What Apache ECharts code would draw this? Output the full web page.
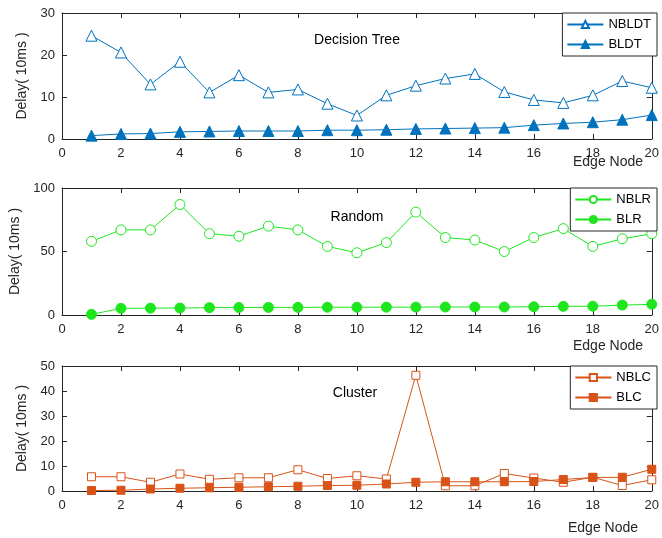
<!DOCTYPE html>
<html>
<head>
<meta charset="utf-8">
<script src="https://cdn.jsdelivr.net/npm/echarts@6/dist/echarts.min.js"></script>
<style>
html,body{margin:0;padding:0;background:#fff;}
#chart{width:662px;height:538px;}
</style>
</head>
<body>
<div id="chart"></div>
<script>
// Edge node indices 1..20
const nodes = [1,2,3,4,5,6,7,8,9,10,11,12,13,14,15,16,17,18,19,20];

// Decision Tree delays (10ms units)
const nbldt = [24.6,20.6,13.0,18.4,11.1,15.2,11.1,11.8,8.4,5.6,10.4,12.7,14.4,15.5,11.2,9.3,8.6,10.4,13.8,12.2];
const bldt  = [0.8,1.2,1.3,1.7,1.8,1.9,1.9,1.9,2.1,2.1,2.2,2.4,2.5,2.6,2.7,3.3,3.7,4.0,4.6,5.7];

// Random delays
const nblr = [58,67,67,87,64,62,70,67,54,49,57,81,61,59,50,61,68,54,60,64];
const blr  = [0.5,5.2,5.4,5.5,5.8,5.9,6.0,6.0,6.1,6.1,6.2,6.2,6.3,6.3,6.3,6.5,6.8,6.9,7.8,8.4];

// Cluster delays
const nblc = [5.7,5.7,3.5,6.8,4.7,5.3,5.3,8.5,5.0,6.1,4.8,46.3,2.1,2.1,7.0,5.2,3.5,5.5,2.2,4.5];
const blc  = [0.2,0.3,0.8,1.1,1.3,1.5,1.7,1.9,2.2,2.3,2.8,3.5,3.7,3.7,3.7,3.8,4.6,5.4,5.5,8.7];

const panelTitles = ['Decision Tree','Random','Cluster'];
const yMax = [30,100,50];
const yStep = [10,50,10];
const xLabel = 'Edge Node';
const yLabel = 'Delay( 10ms )';

const AX = '#262626';
const FONT = 'Liberation Sans, Arial, Helvetica, sans-serif';
const BLUE = '#0072BD', GREEN = '#1de61d', ORANGE = '#D95319';

const grids = [
  {left:62, top:13, width:595, height:126},
  {left:62, top:188, width:595, height:127},
  {left:62, top:366, width:595, height:125}
];

const pair = d => nodes.map((n,i)=>[n,d[i]]);

const tick = {show:true, inside:true, length:5, lineStyle:{color:AX}};
const axLine = {show:true, onZero:false, lineStyle:{color:AX,width:1}};

const xAxes = [], yAxes = [];
grids.forEach((g,i)=>{
  xAxes.push({
    gridIndex:i, type:'value', min:0, max:20, interval:2, position:'bottom',
    axisLine:axLine, axisTick:tick,
    axisLabel:{color:AX, fontSize:13, fontFamily:FONT, margin:8},
    splitLine:{show:false}
  });
  xAxes.push({
    gridIndex:i, type:'value', min:0, max:20, interval:2, position:'top',
    axisLine:axLine, axisTick:tick,
    axisLabel:{show:false}, splitLine:{show:false}
  });
  yAxes.push({
    gridIndex:i, type:'value', min:0, max:yMax[i], interval:yStep[i], position:'left',
    name:yLabel, nameLocation:'middle', nameGap:30,
    nameTextStyle:{color:AX, fontSize:14, fontFamily:FONT},
    axisLine:axLine, axisTick:tick,
    axisLabel:{color:AX, fontSize:13, fontFamily:FONT, margin:7},
    splitLine:{show:false}
  });
  yAxes.push({
    gridIndex:i, type:'value', min:0, max:yMax[i], interval:yStep[i], position:'right',
    axisLine:axLine, axisTick:tick,
    axisLabel:{show:false}, splitLine:{show:false}
  });
});

function line(name, data, gi, color, symbol, filled, size){
  return {
    name, type:'line', xAxisIndex:gi*2, yAxisIndex:gi*2, data:pair(data),
    symbol, symbolSize:size, showSymbol:true,
    lineStyle:{color, width:1},
    itemStyle:{color: filled ? color : '#fff', borderColor:color, borderWidth:1},
    color, animation:false, z: filled ? 3 : 2
  };
}

const series = [
  line('NBLDT', nbldt, 0, BLUE, 'triangle', false, 11),
  line('BLDT',  bldt,  0, BLUE, 'triangle', true, 11),
  line('NBLR',  nblr,  1, GREEN, 'circle', false, 10),
  line('BLR',   blr,   1, GREEN, 'circle', true, 10),
  line('NBLC',  nblc,  2, ORANGE, 'rect', false, 8),
  line('BLC',   blc,   2, ORANGE, 'rect', true, 8)
];

const legendBase = {
  orient:'vertical', right:5, itemWidth:36, itemHeight:9, itemGap:7,
  backgroundColor:'#fff', borderColor:AX, borderWidth:1,
  padding:[5,6,5,4],
  textStyle:{color:'#000', fontSize:13, fontFamily:FONT},
  z:20
};
const legends = [
  Object.assign({}, legendBase, {top:13, data:['NBLDT','BLDT']}),
  Object.assign({}, legendBase, {top:188, data:['NBLR','BLR']}),
  Object.assign({}, legendBase, {top:366, data:['NBLC','BLC']})
];

const titlePos = [[357,40],[357,217],[355,393]];
const xNamePos = [[608,162],[608,346],[603,528]];
const graphic = [];
panelTitles.forEach((t,i)=>{
  graphic.push({type:'text', x:titlePos[i][0], y:titlePos[i][1], z:10,
    style:{text:t, fill:'#000', font:'14px '+FONT, textAlign:'center', textVerticalAlign:'middle'}});
  graphic.push({type:'text', x:xNamePos[i][0], y:xNamePos[i][1], z:10,
    style:{text:xLabel, fill:AX, font:'14px '+FONT, textAlign:'center', textVerticalAlign:'middle'}});
});

const chart = echarts.init(document.getElementById('chart'), null, {renderer:'canvas'});
chart.setOption({
  animation:false,
  backgroundColor:'#fff',
  grid:grids,
  xAxis:xAxes,
  yAxis:yAxes,
  legend:legends,
  series,
  graphic
});
</script>
</body>
</html>
